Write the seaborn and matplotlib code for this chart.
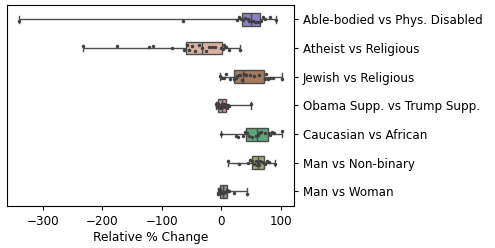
import numpy as np
import pandas as pd
import matplotlib
matplotlib.use("Agg")
import matplotlib.pyplot as plt
import seaborn as sns

categories = [
    "Able-bodied vs Phys. Disabled",
    "Atheist vs Religious",
    "Jewish vs Religious",
    "Obama Supp. vs Trump Supp.",
    "Caucasian vs African",
    "Man vs Non-binary",
    "Man vs Woman",
]

able = [-340, -64, 27, 30, 33, 36, 40, 44, 47, 50, 53, 56, 60, 63, 66, 70, 74, 81, 91]
atheist = [-232, -176, -122, -115, -83, -62, -58, -55, -50, -44, -38, -32, -26, -20,
           -15, -10, 0, 3, 4, 6, 8, 12, 32]
jewish = [-2, 1, 4, 8, 14, 21, 24, 26, 29, 32, 35, 38, 42, 48, 55, 64, 73, 75, 78, 82, 86, 102]
obama = [-9, -8, -7, -7, -6, -5, -3, -1, 0, 1, 2, 4, 6, 8, 9, 10, 11, 13, 49]
caucasian = [0, 25, 28, 36, 40, 43, 47, 52, 58, 61, 63, 66, 73, 80, 82, 85, 88, 102]
nonbinary = [11, 30, 44, 48, 52, 55, 58, 60, 62, 63, 65, 68, 72, 74, 77, 80, 90]
woman = [-6, -5, -4, -3, -3, -2, 0, 2, 3, 4, 6, 7, 9, 11, 12, 22, 43]

box_colors = ["#8e80c0", "#d7b2a3", "#a47c5e", "#c98bb6", "#5ea67e", "#a8a66a", "#8c8c8c"]

values = [able, atheist, jewish, obama, caucasian, nonbinary, woman]
rows = []
for cat, vals in zip(categories, values):
    for v in vals:
        rows.append({"pair": cat, "change": v})
df = pd.DataFrame(rows)

fig, ax = plt.subplots(figsize=(4.95, 2.48), dpi=100)
sns.boxplot(data=df, x="change", y="pair", hue="pair", order=categories,
            palette=box_colors, saturation=1, width=0.45, whis=np.inf,
            showfliers=False, linecolor="0.3", linewidth=1, legend=False, ax=ax)
sns.stripplot(data=df, x="change", y="pair", order=categories, color="0.25",
              size=2.5, jitter=0.1, ax=ax)

ax.yaxis.tick_right()
ax.set_ylabel("")
ax.set_xlabel("Relative % Change", fontsize=8.8, labelpad=2)
ax.set_xlim(-360, 122)
ax.set_xticks([-300, -200, -100, 0, 100])
ax.tick_params(axis="both", labelsize=8.6, length=3)

plt.subplots_adjust(left=0.014, right=0.594, top=0.98, bottom=0.17)
plt.savefig("out.png", dpi=100)
